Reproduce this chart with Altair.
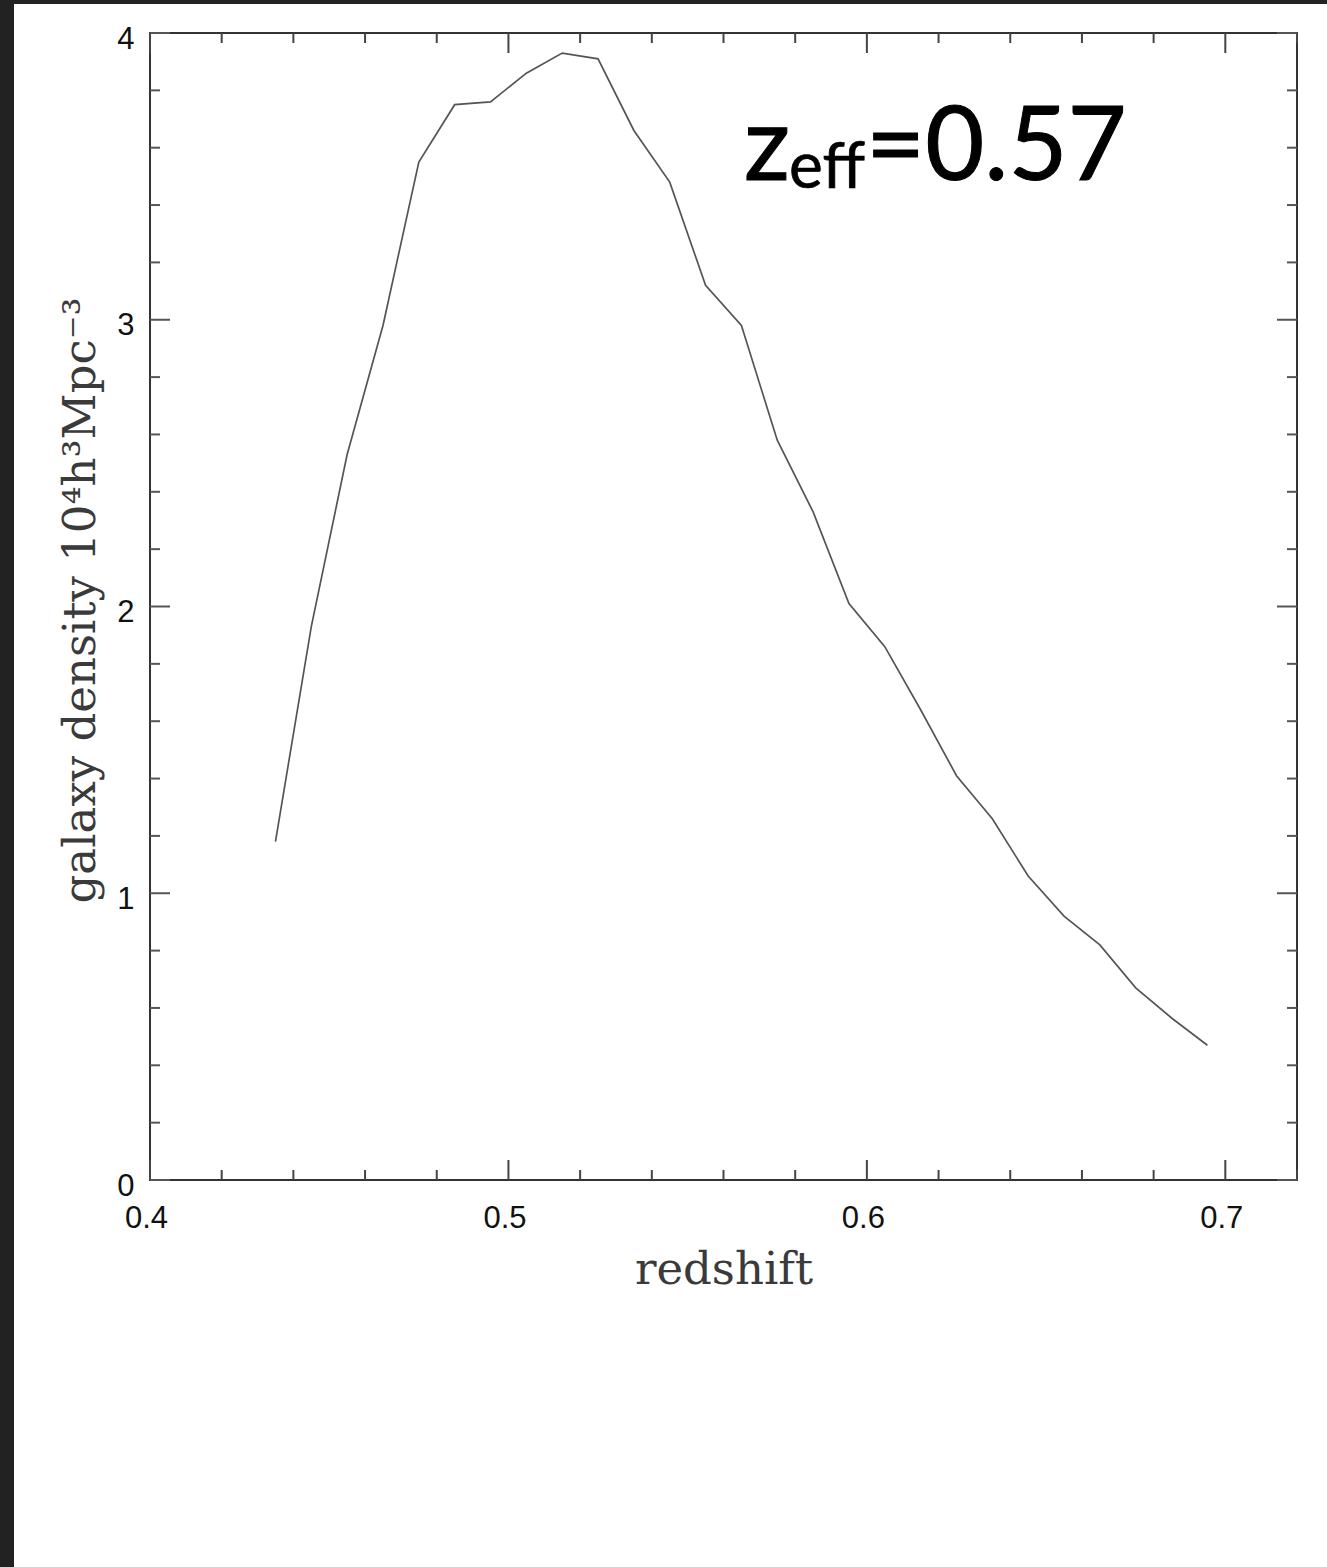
import altair as alt
import pandas as pd

# ---- data ----
redshift = [0.435, 0.445, 0.455, 0.465, 0.475, 0.485, 0.495, 0.505, 0.515, 0.525,
            0.535, 0.545, 0.555, 0.565, 0.575, 0.585, 0.595, 0.605, 0.615, 0.625,
            0.635, 0.645, 0.655, 0.665, 0.675, 0.685, 0.695]
density = [1.18, 1.93, 2.53, 2.98, 3.55, 3.75, 3.76, 3.86, 3.93, 3.91,
           3.66, 3.48, 3.12, 2.98, 2.58, 2.33, 2.01, 1.86, 1.64, 1.41,
           1.26, 1.06, 0.92, 0.82, 0.67, 0.565, 0.47]

x_major_ticks = [0.4, 0.5, 0.6, 0.7]
x_minor_ticks = [0.42, 0.44, 0.46, 0.48, 0.52, 0.54, 0.56, 0.58, 0.62, 0.64,
                 0.66, 0.68, 0.72]
y_major_ticks = [0, 1, 2, 3, 4]
y_minor_ticks = [0.2, 0.4, 0.6, 0.8, 1.2, 1.4, 1.6, 1.8, 2.2, 2.4, 2.6, 2.8,
                 3.2, 3.4, 3.6, 3.8]

x_title = "redshift"
y_title = "galaxy density 10⁴h³Mpc⁻³"
anno_main = "z"
anno_sub = "eff"
anno_rest = "=0.57"

W, H = 1147, 1147
PAD_L, PAD_T, PAD_R, PAD_B = 150, 33, 30, 387

xscale = alt.Scale(domain=[0.4, 0.72], nice=False, zero=False)
yscale = alt.Scale(domain=[0, 4], nice=False, zero=False)

line_df = pd.DataFrame({"z": redshift, "n": density})

x_axis = alt.Axis(values=x_major_ticks, format=".1f", ticks=False, domain=False, grid=False,
                  labelFont="Liberation Sans", labelFontSize=31, labelColor="#111",
                  labelPadding=23, labelOffset=-4, labelFlush=False,
                  title=x_title, titleFont="DejaVu Serif", titleFontSize=45,
                  titleFontWeight="normal", titleColor="#3a3a3a",
                  titleBaseline="alphabetic", titleY=103)
y_axis = alt.Axis(values=y_major_ticks, format="d", ticks=False, domain=False, grid=False,
                  labelFont="Liberation Sans", labelFontSize=31, labelColor="#111",
                  labelPadding=16, labelOffset=6, labelFlush=False,
                  title=y_title, titleFont="DejaVu Serif", titleFontSize=45,
                  titleFontWeight="normal", titleColor="#3a3a3a",
                  titleAngle=270, titleBaseline="alphabetic", titleAlign="center",
                  titleX=-56, titleY=567)

line = alt.Chart(line_df).mark_line(color="#555", strokeWidth=1.7).encode(
    x=alt.X("z:Q", scale=xscale, axis=x_axis, title=x_title),
    y=alt.Y("n:Q", scale=yscale, axis=y_axis, title=y_title),
)

def xticks(vals, length):
    df = pd.DataFrame({"t": vals})
    base = alt.Chart(df).mark_rule(color="#444", strokeWidth=2)
    bottom = base.encode(x=alt.X("t:Q", scale=xscale, axis=x_axis, title=x_title),
                         y=alt.value(H), y2=alt.value(H - length))
    top = base.encode(x=alt.X("t:Q", scale=xscale, axis=x_axis, title=x_title),
                      y=alt.value(0), y2=alt.value(length))
    return [bottom, top]

def yticks(vals, length):
    df = pd.DataFrame({"t": vals})
    base = alt.Chart(df).mark_rule(color="#555", strokeWidth=2)
    left = base.encode(y=alt.Y("t:Q", scale=yscale, axis=y_axis, title=y_title),
                       x=alt.value(0), x2=alt.value(length))
    right = base.encode(y=alt.Y("t:Q", scale=yscale, axis=y_axis, title=y_title),
                        x=alt.value(W), x2=alt.value(W - length))
    return [left, right]

one = pd.DataFrame({"a": [0]})
dark_left = alt.Chart(one).mark_rect(color="#222222").encode(
    x=alt.value(-PAD_L), x2=alt.value(-PAD_L + 14),
    y=alt.value(-PAD_T), y2=alt.value(H + PAD_B))
dark_top = alt.Chart(one).mark_rect(color="#222222").encode(
    x=alt.value(-PAD_L), x2=alt.value(W + PAD_R),
    y=alt.value(-PAD_T), y2=alt.value(-PAD_T + 4))

txt_main = alt.Chart(one).mark_text(text=anno_main, font="Lato", fontSize=102,
                                    align="left", baseline="alphabetic", color="#000",
                                    stroke="#000", strokeWidth=1).encode(
    x=alt.value(594), y=alt.value(147))
txt_sub = alt.Chart(one).mark_text(text=anno_sub, font="Lato", fontSize=64,
                                   align="left", baseline="alphabetic", color="#000",
                                   stroke="#000", strokeWidth=0.7).encode(
    x=alt.value(639), y=alt.value(155))
txt_rest = alt.Chart(one).mark_text(text=anno_rest, font="Lato", fontSize=102,
                                    align="left", baseline="alphabetic", color="#000",
                                    stroke="#000", strokeWidth=1).encode(
    x=alt.value(716), y=alt.value(147))

layers = [line]
layers += xticks(x_minor_ticks, 10) + xticks(x_major_ticks, 20)
layers += yticks(y_minor_ticks, 10) + yticks(y_major_ticks, 20)
layers += [dark_left, dark_top, txt_main, txt_sub, txt_rest]

chart = alt.layer(*layers).properties(
    width=W, height=H,
    autosize=alt.AutoSizeParams(type="none"),
    padding={"left": PAD_L, "top": PAD_T, "right": PAD_R, "bottom": PAD_B},
    background="white",
).configure_view(stroke="#333", strokeWidth=2)

chart.save("out.html", embed_options={"renderer": "svg", "actions": False})
